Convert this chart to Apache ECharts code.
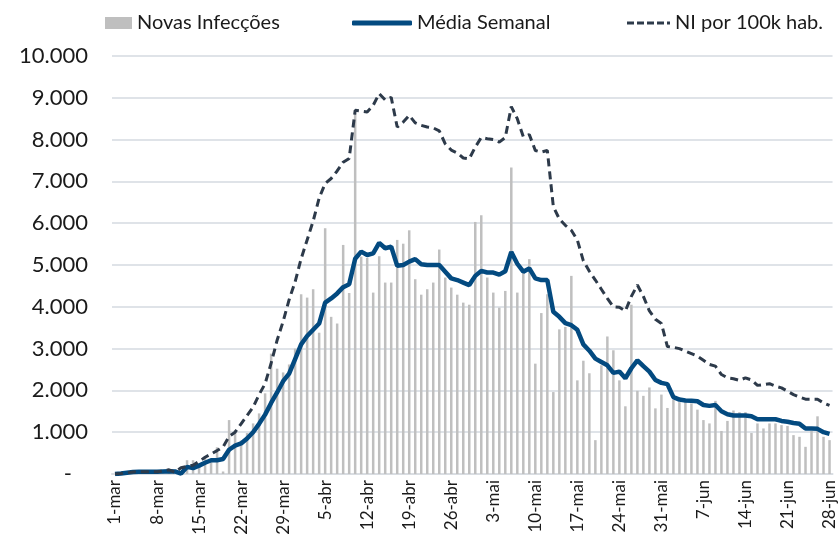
<!DOCTYPE html>
<html>
<head>
<meta charset="utf-8">
<script src="https://cdn.jsdelivr.net/npm/echarts@6/dist/echarts.min.js"></script>
<style>
  html, body { margin: 0; padding: 0; background: #fff; }
  #chart { width: 838px; height: 546px; }
</style>
</head>
<body>
<div id="chart"></div>
<script>
// eixo x: 1-mar ate 28-jun
const meses = ["mar", "abr", "mai", "jun"];
const diasNoMes = [31, 30, 31, 28];

const novasInfeccoes = [
  0, 0, 5, 5, 10, 5, 15, 20, 30, 25, 40,
  60,
  330, 330, 250, 400, 300, 640, 60,
  1290, 1050, 800, 980, 1210, 1450, 1930, 2880, 2520, 2430, 2620, 3000,
  4300, 4220, 4420, 3380, 5880, 3760, 3600, 5480, 4330,
  8630, 5200, 5170, 4340, 5210, 4580, 4580, 5600, 5510, 5830, 4660, 4290, 4420, 4580, 5370, 4700, 4460, 4290, 4100,
  4050, 6030, 6190, 4700, 4340, 3980, 4380, 7330, 4340, 4860, 5140, 2640, 3850, 4300,
  1960, 3460, 3520, 4740, 2240, 2710,
  2410, 810, 2600, 3290, 2960, 2240, 1620, 4050, 1990, 1870, 2070, 1570, 1900, 1580, 1780, 1720, 1720, 1690, 1540, 1290,
  1210, 1750, 1030, 1270, 1520, 1480, 1480, 980, 1210, 1090, 1210, 1210, 1170, 1150, 930, 890, 650, 1030, 1380, 890, 810
];

const mediaSemanal = [
  0, 10, 30, 50, 55, 55, 55, 55, 60, 65, 60,
  10,
  170, 140, 200, 270, 330, 330, 360,
  580, 680, 730, 850, 1000, 1200, 1420, 1700, 1950, 2220, 2400, 2750,
  3100, 3300, 3450, 3600, 4100, 4200, 4320, 4470, 4540,
  5150, 5320, 5240, 5280, 5530, 5400, 5440, 4980, 5000, 5080, 5140, 5020, 5000, 5000, 5000, 4840, 4680, 4640, 4580,
  4520, 4740, 4860, 4820, 4820, 4770, 4850, 5310, 5030, 4840, 4920, 4680, 4640, 4640,
  3880, 3760, 3610, 3560, 3450, 3100,
  2950, 2760, 2680, 2600, 2420, 2450, 2290, 2530, 2720, 2580, 2450, 2250, 2180, 2150, 1840, 1780, 1760, 1750, 1740, 1650,
  1630, 1650, 1500, 1430, 1400, 1400, 1400, 1380, 1310, 1310, 1310, 1310, 1270, 1250, 1220, 1200, 1090, 1090, 1080, 1000, 960
];

const niPor100k = [
  0, 10, 30, 50, 55, 55, 55, 55, 70, 100, 40,
  150,
  180, 210, 300, 400, 480, 560, 650,
  900, 1000, 1200, 1400, 1600, 1900, 2160, 2650, 3200, 3650, 4170, 4600,
  5150, 5600, 6050, 6600, 6950, 7070, 7250, 7460, 7550,
  8700, 8680, 8660, 8820, 9100, 8950, 9010, 8300, 8420, 8580, 8400, 8340, 8300, 8280, 8210, 7900, 7750, 7680, 7560,
  7540, 7820, 8050, 8020, 8000, 7940, 8050, 8790, 8500, 8070, 8120, 7740, 7700, 7740,
  6400, 6100, 5950, 5830, 5600, 5100,
  4850, 4640, 4420, 4200, 4000, 3990, 3900, 4250, 4520, 4250, 3900, 3700, 3600, 3050, 3030, 3000, 2940, 2880, 2820, 2720,
  2620, 2580, 2380, 2300, 2280, 2240, 2300, 2250, 2120, 2140, 2160, 2100, 2060, 1980, 1900, 1840, 1790, 1790, 1790, 1700, 1640
];

const datas = [];
meses.forEach((m, i) => {
  for (let d = 1; d <= diasNoMes[i]; d++) datas.push(d + "-" + m);
});

const fonte = "Lato";
const corTexto = "#1a1a1a";
// icone tracejado da legenda
const iconeTracejado =
  "path://M0,0h7v3h-7z M10,0h7v3h-7z M20,0h7v3h-7z M30,0h7v3h-7z M40,0h3v3h-3z";

function milhar(v) {
  if (v === 0) return "{traco|-}";
  return String(v).replace(/\B(?=(\d{3})+(?!\d))/g, ".");
}

const chart = echarts.init(document.getElementById("chart"));
chart.setOption({
  animation: false,
  textStyle: { fontFamily: fonte },
  grid: { left: 112, right: 0, top: 56, bottom: 72, containLabel: false },
  legend: [
    {
      data: [{ name: "Novas Infecções", icon: "rect" }],
      left: 100, top: 8,
      itemWidth: 27, itemHeight: 12,
      textStyle: { fontSize: 20, color: corTexto, fontFamily: fonte }
    },
    {
      data: [{ name: "Média Semanal", icon: "roundRect" }],
      left: 347, top: 8,
      itemWidth: 60, itemHeight: 5,
      textStyle: { fontSize: 20, color: corTexto, fontFamily: fonte }
    },
    {
      data: [{ name: "NI por 100k hab.", icon: iconeTracejado }],
      left: 622, top: 8,
      itemWidth: 43, itemHeight: 3,
      textStyle: { fontSize: 20, color: corTexto, fontFamily: fonte }
    }
  ],
  xAxis: {
    type: "category",
    data: datas,
    boundaryGap: true,
    axisTick: { show: false },
    axisLine: { lineStyle: { color: "#d9dde2", width: 2 } },
    axisLabel: {
      interval: 6,
      rotate: 90,
      margin: 6,
      fontSize: 17,
      color: corTexto,
      fontFamily: fonte
    }
  },
  yAxis: {
    type: "value",
    min: 0,
    max: 10000,
    interval: 1000,
    axisLine: { show: false },
    axisTick: { show: false },
    splitLine: { lineStyle: { color: "#dfe3e8", width: 2 } },
    axisLabel: {
      margin: 24,
      fontSize: 22,
      color: corTexto,
      fontFamily: fonte,
      formatter: milhar,
      rich: { traco: { fontSize: 22, padding: [0, 16, 0, 0], fontFamily: fonte } }
    }
  },
  series: [
    {
      name: "Novas Infecções",
      type: "bar",
      data: novasInfeccoes,
      barWidth: 2.5,
      itemStyle: { color: "#bfbfbf" }
    },
    {
      name: "Média Semanal",
      type: "line",
      data: mediaSemanal,
      symbol: "none",
      itemStyle: { color: "#034a80" },
      lineStyle: { color: "#034a80", width: 4.5 }
    },
    {
      name: "NI por 100k hab.",
      type: "line",
      data: niPor100k,
      symbol: "none",
      itemStyle: { color: "#2d3a4a" },
      lineStyle: { color: "#2d3a4a", width: 3, type: [8, 5] }
    }
  ]
});
</script>
</body>
</html>
